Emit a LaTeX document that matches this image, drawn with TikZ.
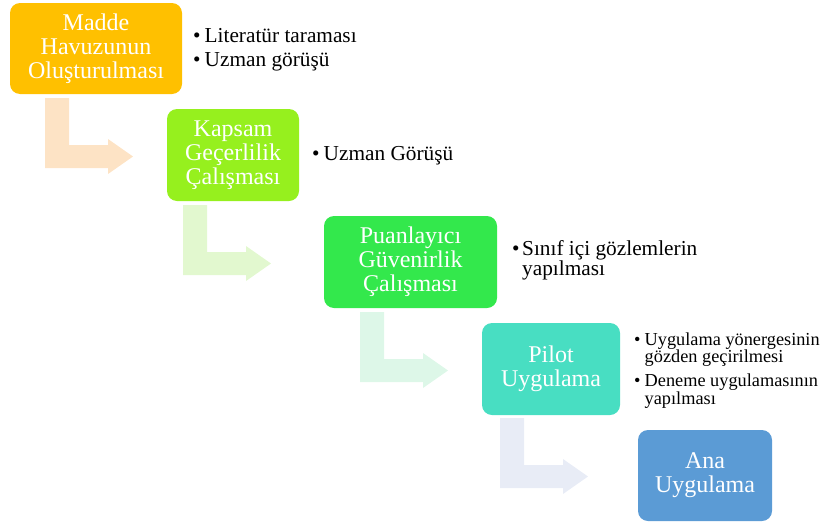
\documentclass[tikz,border=0pt]{standalone}
\usepackage{fontspec}
\setmainfont{Liberation Serif}
\definecolor{cA}{HTML}{FFC000}
\definecolor{cB}{HTML}{96F01E}
\definecolor{cC}{HTML}{33E84C}
\definecolor{cD}{HTML}{48DEC2}
\definecolor{cE}{HTML}{5B9BD5}
\definecolor{aA}{HTML}{FDE3C5}
\definecolor{aB}{HTML}{E2F8CF}
\definecolor{aC}{HTML}{DDF7E8}
\definecolor{aD}{HTML}{E8ECF6}
\newcommand\bentarrow[3]{%
  \fill[#1] (#2,#3) -- ++(24,0) -- ++(0,47) -- ++(39,0) -- ++(0,-6)
    -- ++(25,17.5) -- ++(-25,17.5) -- ++(0,-6) -- ++(-63,0) -- cycle;}
\newcommand\bigbul{\makebox[11.5pt][l]{\textbullet}}
\newcommand\smbul{\makebox[10pt][l]{\textbullet}}
\begin{document}
\begin{tikzpicture}[x=1pt,y=-1pt,
  stagebox/.style={rounded corners=10pt, text=white, align=center, inner sep=0pt,
    font=\fontsize{24}{24}\selectfont},
  notes/.style={anchor=base west, inner sep=0pt, text=black}]
\useasboundingbox (0,0) rectangle (824,525);
% arrows
\bentarrow{aA}{45}{98}
\bentarrow{aB}{183}{205}
\bentarrow{aC}{360}{312}
\bentarrow{aD}{500}{418}
% boxes
\node[stagebox, fill=cA, minimum width=172pt, minimum height=91pt] (b1) at (96,48.5) {Madde\\Havuzunun\\Oluşturulması};
\node[stagebox, fill=cB, minimum width=132pt, minimum height=92pt] (b2) at (233,155) {Kapsam\\Geçerlilik\\Çalışması};
\node[stagebox, fill=cC, minimum width=173pt, minimum height=92pt] (b3) at (410.5,262) {Puanlayıcı\\Güvenirlik\\Çalışması};
\node[stagebox, fill=cD, minimum width=138pt, minimum height=92pt] (b4) at (551,369) {Pilot\\Uygulama};
\node[stagebox, fill=cE, minimum width=134pt, minimum height=91pt] (b5) at (705,475.5) {Ana\\Uygulama};
% notes
\node[notes] (n1) at (193,42) {\fontsize{21.3}{24}\selectfont
  \begin{tabular}[t]{@{}l@{}}\bigbul Literatür taraması\\ \bigbul Uzman görüşü\end{tabular}};
\node[notes] (n2) at (312,160) {\fontsize{21.3}{24}\selectfont
  \begin{tabular}[t]{@{}l@{}}\bigbul Uzman Görüşü\end{tabular}};
\node[notes] (n3) at (512,255) {\fontsize{21.3}{20}\selectfont
  \begin{tabular}[t]{@{}l@{}}\smbul Sınıf içi gözlemlerin\\ \hspace*{10pt}yapılması\end{tabular}};
\node[notes] (n4) at (634,345) {\fontsize{18.3}{17.5}\selectfont
  \begin{tabular}[t]{@{}l@{}}\makebox[10.5pt][l]{\textbullet}Uygulama yönergesinin\\
  \hspace*{10.5pt}gözden geçirilmesi\\[5.5pt]
  \makebox[10.5pt][l]{\textbullet}Deneme uygulamasının\\
  \hspace*{10.5pt}yapılması\end{tabular}};
\end{tikzpicture}
\end{document}
